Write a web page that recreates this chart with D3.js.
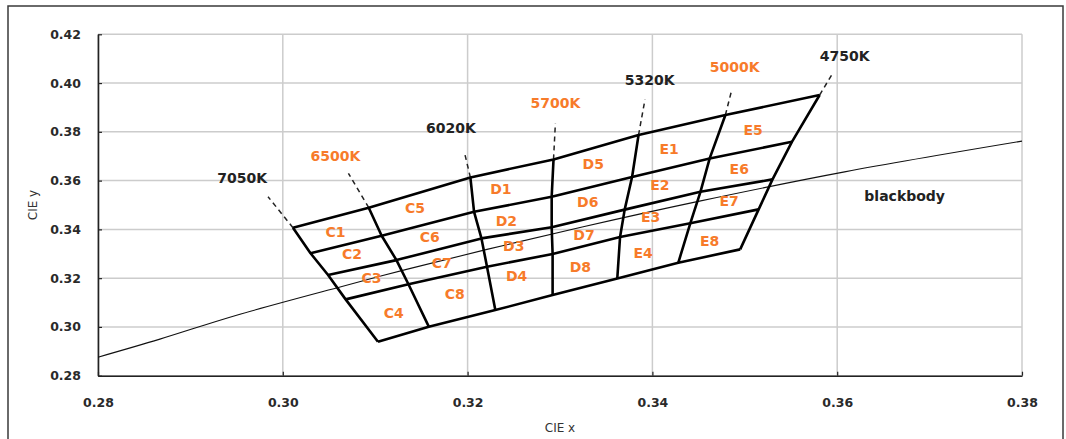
<!DOCTYPE html>
<html>
<head>
<meta charset="utf-8">
<script src="https://cdn.jsdelivr.net/npm/d3@7"></script>
<style>
  html, body { margin: 0; padding: 0; background: #fff; }
  svg { display: block; font-family: "DejaVu Sans", Verdana, sans-serif; }
</style>
</head>
<body>
<svg id="chart" width="1066" height="439"></svg>
<script>
// Axis ticks
const xTicks = [0.28, 0.30, 0.32, 0.34, 0.36, 0.38];
const yTicks = [0.28, 0.30, 0.32, 0.34, 0.36, 0.38, 0.40, 0.42];

// Isotherm (CCT) boundary lines, each sampled at the five row boundaries (top -> bottom)
const isoNames = ["7050K", "6500K", "6020K", "5700K", "5320K", "5000K", "4750K"];
const isoX = [
  [0.3011, 0.3030, 0.3049, 0.3068, 0.3103],
  [0.3093, 0.3107, 0.3123, 0.3136, 0.3158],
  [0.3203, 0.3207, 0.3215, 0.3221, 0.3230],
  [0.3293, 0.3291, 0.3291, 0.3292, 0.3292],
  [0.3385, 0.3378, 0.3370, 0.3365, 0.3362],
  [0.3479, 0.3462, 0.3452, 0.3441, 0.3428],
  [0.3581, 0.3551, 0.3530, 0.3515, 0.3495]
];
const isoY = [
  [0.3407, 0.3302, 0.3213, 0.3113, 0.2939],
  [0.3489, 0.3374, 0.3274, 0.3175, 0.3001],
  [0.3613, 0.3472, 0.3363, 0.3247, 0.3069],
  [0.3687, 0.3534, 0.3409, 0.3299, 0.3131],
  [0.3787, 0.3615, 0.3481, 0.3369, 0.3199],
  [0.3869, 0.3691, 0.3554, 0.3425, 0.3263],
  [0.3951, 0.3759, 0.3605, 0.3482, 0.3318]
];
// Dashed leader ends above each isotherm and the CCT label anchors
const leaderX = [0.2984, 0.3071, 0.3197, 0.3295, 0.3392, 0.3486, 0.3596];
const leaderY = [0.3534, 0.3630, 0.3709, 0.3835, 0.3933, 0.3974, 0.4046];
const isoLabelX = [0.2956, 0.3057, 0.3182, 0.3295, 0.3397, 0.3489, 0.3608];
const isoLabelY = [0.3611, 0.3701, 0.3814, 0.3919, 0.4012, 0.4067, 0.4111];
const isoNominal = [false, true, false, true, false, true, false];

// Bin names and their label anchors
const binNames = ["C1","C2","C3","C4","C5","C6","C7","C8",
                  "D1","D2","D3","D4","D5","D6","D7","D8",
                  "E1","E2","E3","E4","E5","E6","E7","E8"];
const binX = [0.3057, 0.3075, 0.3096, 0.3120, 0.3143, 0.3159, 0.3172, 0.3186,
              0.3236, 0.3242, 0.3250, 0.3253, 0.3336, 0.3330, 0.3326, 0.3322,
              0.3418, 0.3408, 0.3398, 0.3390, 0.3509, 0.3494, 0.3483, 0.3462];
const binY = [0.3388, 0.3298, 0.3202, 0.3056, 0.3489, 0.3370, 0.3261, 0.3134,
              0.3564, 0.3436, 0.3332, 0.3209, 0.3668, 0.3511, 0.3377, 0.3244,
              0.3728, 0.3582, 0.3449, 0.3302, 0.3807, 0.3646, 0.3518, 0.3354];

// Planckian (blackbody) locus
const bbX = [0.2800, 0.2867, 0.2950, 0.3064, 0.3135, 0.3221, 0.3324, 0.3451, 0.3608, 0.3800];
const bbY = [0.2876, 0.2950, 0.3048, 0.3166, 0.3237, 0.3318, 0.3410, 0.3516, 0.3636, 0.3762];
const bbLabel = { text: "blackbody", x: 0.3673, y: 0.3538 };

const ORANGE = "#f77b2a";
const svg = d3.select("#chart");
const margin = { left: 98, right: 1022, top: 34.3, bottom: 375.7 };

const x = d3.scaleLinear().domain([0.28, 0.38]).range([margin.left, margin.right]);
const y = d3.scaleLinear().domain([0.28, 0.42]).range([margin.bottom, margin.top]);

// outer chart frame
svg.append("rect")
  .attr("x", 8).attr("y", 6).attr("width", 1055).attr("height", 460)
  .attr("fill", "none").attr("stroke", "#3a3a3a").attr("stroke-width", 1.5);

// gridlines
const grid = svg.append("g").attr("stroke", "#cccccc").attr("stroke-width", 1.5);
grid.selectAll("line.v").data(xTicks).join("line")
  .attr("x1", d => x(d)).attr("x2", d => x(d))
  .attr("y1", y(0.28)).attr("y2", y(0.42));
grid.selectAll("line.h").data(yTicks).join("line")
  .attr("y1", d => y(d)).attr("y2", d => y(d))
  .attr("x1", x(0.28)).attr("x2", x(0.38));

// axes
const fmt = d3.format(".2f");
const xAxis = svg.append("g")
  .attr("transform", `translate(0,${y(0.28)})`)
  .call(d3.axisBottom(x).tickValues(xTicks).tickFormat(fmt).tickSizeInner(-4).tickSizeOuter(0).tickPadding(22));
const yAxis = svg.append("g")
  .attr("transform", `translate(${x(0.28)},0)`)
  .call(d3.axisLeft(y).tickValues(yTicks).tickFormat(fmt).tickSizeInner(-4).tickSizeOuter(0).tickPadding(17));
[xAxis, yAxis].forEach(a => {
  a.select(".domain").attr("stroke", "#222").attr("stroke-width", 1.6);
  a.selectAll(".tick line").attr("stroke", "#222").attr("stroke-width", 1.2);
  a.selectAll(".tick text").attr("fill", "#2a2a2a").style("font-size", "12.5px")
    .style("font-weight", "bold").style("font-family", "'DejaVu Sans', sans-serif");
});

// axis titles
svg.append("text").attr("x", (margin.left + margin.right) / 2).attr("y", 432)
  .attr("text-anchor", "middle").attr("fill", "#333").style("font-size", "12px").text("CIE x");
svg.append("text").attr("transform", `translate(37,${(margin.top + margin.bottom) / 2}) rotate(-90)`)
  .attr("text-anchor", "middle").attr("fill", "#333").style("font-size", "12px").text("CIE y");

const line = d3.line().x(d => x(d[0])).y(d => y(d[1]));

// blackbody locus
svg.append("path")
  .datum(bbX.map((v, i) => [v, bbY[i]]))
  .attr("d", line.curve(d3.curveCatmullRom))
  .attr("fill", "none").attr("stroke", "#111").attr("stroke-width", 1.1);
line.curve(d3.curveLinear);

// dashed leaders from top of each isotherm
svg.append("g").selectAll("path").data(isoNames).join("path")
  .attr("d", (d, i) => line([[isoX[i][0], isoY[i][0]], [leaderX[i], leaderY[i]]]))
  .attr("fill", "none").attr("stroke", "#222").attr("stroke-width", 1.5)
  .attr("stroke-dasharray", "5,4");

// bin grid: row boundaries and isotherm boundaries
const rows = d3.range(5).map(j => isoNames.map((_, i) => [isoX[i][j], isoY[i][j]]));
const isos = isoNames.map((_, i) => d3.range(5).map(j => [isoX[i][j], isoY[i][j]]));
const gridG = svg.append("g").attr("fill", "none").attr("stroke", "#000")
  .attr("stroke-width", 2.6).attr("stroke-linejoin", "round");
gridG.selectAll("path.row").data(rows).join("path").attr("d", line);
gridG.selectAll("path.iso").data(isos).join("path").attr("d", line);

// CCT labels
svg.append("g").selectAll("text").data(isoNames).join("text")
  .attr("x", (d, i) => x(isoLabelX[i])).attr("y", (d, i) => y(isoLabelY[i]))
  .attr("dy", "0.36em").attr("text-anchor", "middle")
  .attr("fill", (d, i) => isoNominal[i] ? ORANGE : "#222")
  .style("font-size", "14px").style("font-weight", "bold").text(d => d);

// bin labels
svg.append("g").selectAll("text").data(binNames).join("text")
  .attr("x", (d, i) => x(binX[i])).attr("y", (d, i) => y(binY[i]))
  .attr("dy", "0.36em").attr("text-anchor", "middle")
  .attr("fill", ORANGE).style("font-size", "14px").style("font-weight", "bold").text(d => d);

// blackbody label
svg.append("text").attr("x", x(bbLabel.x)).attr("y", y(bbLabel.y))
  .attr("dy", "0.36em").attr("text-anchor", "middle").attr("fill", "#222")
  .style("font-size", "14px").style("font-weight", "bold").text(bbLabel.text);
</script>
</body>
</html>
